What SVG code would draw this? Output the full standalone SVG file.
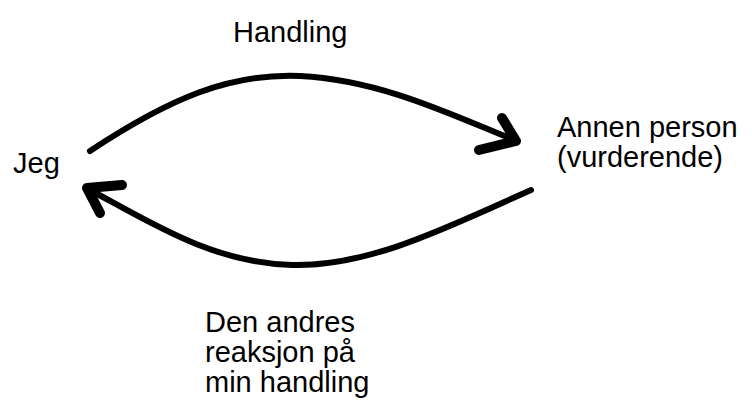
<svg xmlns="http://www.w3.org/2000/svg" width="752" height="403" viewBox="0 0 752 403">
  <style>
    .lbl { font-family: "Liberation Sans", Arial, sans-serif; font-size: 29px; fill: #000; }
    .arc { fill: none; stroke: #000; stroke-width: 6; stroke-linecap: round; stroke-linejoin: round; }
    .head { fill: none; stroke: #000; stroke-width: 10; stroke-linecap: round; stroke-linejoin: round; }
  </style>
  <rect width="752" height="403" fill="#fff"/>
  <g id="connectors">
    <!-- action: Jeg to the other person -->
    <path class="arc" d="M 90 151 C 170 98, 230 73, 300 76 C 380 80, 450 114, 514 140"/>
    <polyline class="head" points="502,118 516,141 479,150"/>
    <!-- reaction: the other person back to Jeg -->
    <path class="arc" d="M 531 190 C 450 226, 370 267, 292 265 C 212 263, 150 222, 90 190"/>
    <polyline class="head" points="122,185 87,188 100,213"/>
  </g>
  <g id="jeg">
    <text class="lbl" x="13" y="173">Jeg</text>
  </g>
  <g id="annen-person">
    <text class="lbl" x="557" y="137">Annen person</text>
    <text class="lbl" x="557" y="167">(vurderende)</text>
  </g>
  <g id="handling">
    <text class="lbl" x="233" y="42">Handling</text>
  </g>
  <g id="reaksjon">
    <text class="lbl" x="205" y="332">Den andres</text>
    <text class="lbl" x="205" y="362">reaksjon på</text>
    <text class="lbl" x="205" y="392">min handling</text>
  </g>
</svg>
